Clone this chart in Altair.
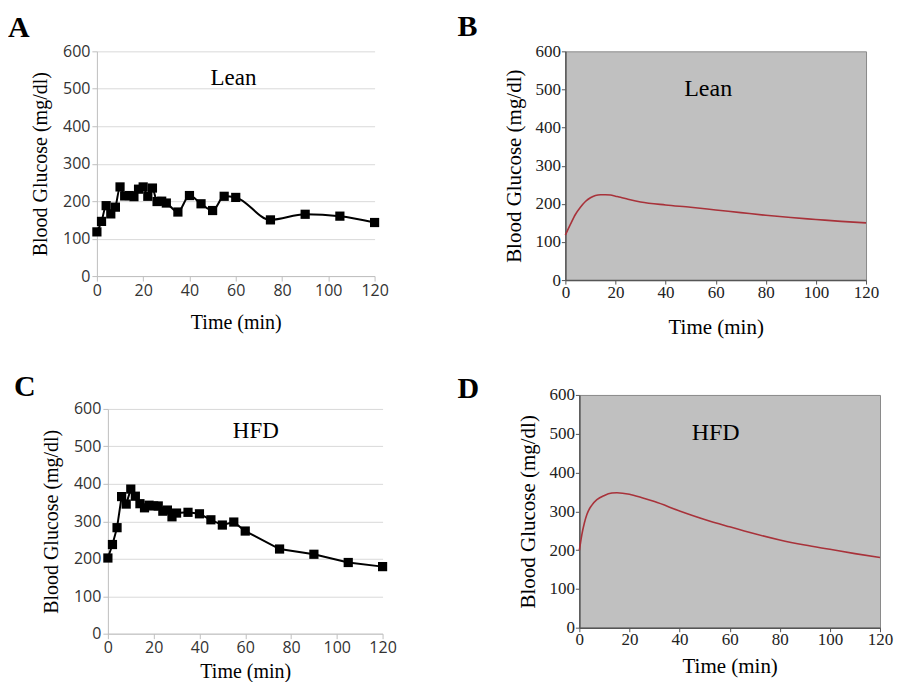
import altair as alt
import pandas as pd

# ---------------- data ----------------
time_pts = [0, 2, 4, 6, 8, 10, 12, 14, 16, 18, 20, 22, 24, 26, 28, 30,
            35, 40, 45, 50, 55, 60, 75, 90, 105, 120]
lean_glucose = [118, 146, 188, 166, 184, 238, 214, 215, 212, 232, 238, 213, 235,
                199, 200, 195, 171, 215, 193, 175, 213, 210, 150, 165, 160, 143]
hfd_glucose = [202, 238, 283, 366, 346, 386, 367, 347, 336, 343, 341, 341, 327,
               330, 312, 322, 324, 320, 304, 290, 298, 274, 226, 212, 190, 179]

lean_model_t = [0, 2, 4, 6, 8, 10, 12, 14, 16, 18, 20, 22, 25, 30, 40, 50, 60,
                70, 80, 90, 100, 110, 120]
lean_model_g = [118, 146, 172, 191, 206, 216, 222, 224, 224, 223, 220, 217, 212,
                205, 197, 191, 184, 177, 170, 164, 159, 154, 150]
hfd_model_t = [0, 1, 2, 3, 5, 7, 10, 13, 15, 20, 25, 30, 40, 50, 60, 70, 80, 90,
               100, 110, 120]
hfd_model_g = [199, 240, 270, 292, 316, 330, 341, 347, 348, 344, 335, 325, 301,
               279, 260, 242, 226, 213, 202, 191, 181]

x_ticks = [0, 20, 40, 60, 80, 100, 120]
y_ticks = [0, 100, 200, 300, 400, 500, 600]

SERIF = "Liberation Serif"
SANS = "Open Sans"
RED = "#a8323a"


def letter(txt, dx, offset):
    return alt.TitleParams(txt, anchor="start", frame="group", dx=dx,
                           font=SERIF, fontSize=30, fontWeight="bold",
                           color="black", offset=offset)


def label_layer(label, lx, ly, size):
    df = pd.DataFrame({"label": [label], "t": [lx], "g": [ly]})
    return alt.Chart(df).mark_text(font=SERIF, fontSize=size, color="black",
                                   baseline="middle", fontWeight="normal")


def excel_panel(t, g, label, label_x, label_y, title, width, height,
                xrange, yrange, yoff, interp, xtitle_pad):
    df = pd.DataFrame({"t": t, "g": g})
    xs = alt.Scale(domain=[0, 120], nice=False, range=xrange)
    ys = alt.Scale(domain=[0, 600], nice=False, range=yrange)
    xax = alt.Axis(values=x_ticks, title="Time (min)", titleFont=SERIF,
                   titleFontSize=20, titleFontWeight="normal", titleColor="black",
                   labelFont=SANS, labelFontSize=16, labelColor="#333333",
                   domainColor="#bfbfbf", tickColor="#bfbfbf", tickSize=5,
                   grid=False, labelPadding=1, titlePadding=xtitle_pad,
                   labelFlush=False, labelOverlap=False)
    yax = alt.Axis(values=y_ticks, title="Blood Glucose (mg/dl)", titleFont=SERIF,
                   titleFontSize=20, titleFontWeight="normal", titleColor="black",
                   labelFont=SANS, labelFontSize=16, labelColor="#333333",
                   domainColor="#bfbfbf", tickColor="#bfbfbf", tickSize=5,
                   grid=True, gridColor="#d9d9d9", labelPadding=2,
                   titlePadding=12, offset=yoff, labelOverlap=False)
    x = alt.X("t:Q", scale=xs, axis=xax)
    y = alt.Y("g:Q", scale=ys, axis=yax)
    base = alt.Chart(df)
    line = base.mark_line(color="black", strokeWidth=2,
                          interpolate=interp).encode(x=x, y=y)
    pts = base.mark_point(shape="square", filled=True, color="black",
                          size=85, opacity=1).encode(x=x, y=y)
    txt = label_layer(label, label_x, label_y, 23).encode(
        x=x, y=y, text="label:N")
    return alt.layer(line, pts, txt).properties(
        width=width, height=height, title=title,
        view=alt.ViewBackground(stroke=None, fill="white"))


def model_panel(t, g, label, label_x, label_y, title, width, height, xtitle_pad):
    df = pd.DataFrame({"t": t, "g": g})
    xs = alt.Scale(domain=[0, 120], nice=False)
    ys = alt.Scale(domain=[0, 600], nice=False)
    xax = alt.Axis(values=x_ticks, title="Time (min)", titleFont=SERIF,
                   titleFontSize=21, titleFontWeight="normal", titleColor="black",
                   labelFont=SERIF, labelFontSize=17, labelColor="#222222",
                   domainColor="#555555", domainWidth=1.5, tickColor="#555555",
                   tickSize=4, grid=False, labelPadding=0, titlePadding=xtitle_pad,
                   labelFlush=False, labelOverlap=False)
    yax = alt.Axis(values=y_ticks, title="Blood Glucose (mg/dl)", titleFont=SERIF,
                   titleFontSize=21, titleFontWeight="normal", titleColor="black",
                   labelFont=SERIF, labelFontSize=17, labelColor="#222222",
                   domainColor="#555555", domainWidth=1.5, tickColor="#555555",
                   tickSize=4, grid=False, labelPadding=1, titlePadding=10,
                   labelOverlap=False)
    x = alt.X("t:Q", scale=xs, axis=xax)
    y = alt.Y("g:Q", scale=ys, axis=yax)
    line = alt.Chart(df).mark_line(color=RED, strokeWidth=1.6,
                                   interpolate="monotone").encode(x=x, y=y)
    txt = label_layer(label, label_x, label_y, 24).encode(
        x=x, y=y, text="label:N")
    return alt.layer(line, txt).properties(
        width=width, height=height, title=title,
        view=alt.ViewBackground(stroke="#8a8a8a", fill="#c0c0c0", strokeWidth=1))


pA = excel_panel(time_pts, lean_glucose, "Lean", 59, 530, letter("A", -89, 0),
                 278, 225, [0, 278], [225, 0], 0, "monotone", 14)
pB = model_panel(lean_model_t, lean_model_g, "Lean", 57, 501,
                 letter("B", -108, 0), 301, 229, 16)
pC = excel_panel(time_pts, hfd_glucose, "HFD", 64.6, 540, letter("C", -83, -7),
                 286, 239, [11, 286], [239, 14], -11, "linear", 6)
pD = model_panel(hfd_model_t, hfd_model_g, "HFD", 54.4, 502,
                 letter("D", -122, -18), 301, 233, 8)

row1 = alt.hconcat(pA, pB, spacing=191, bounds="flush")
row2 = alt.hconcat(pC, pD, spacing=197, bounds="flush")

chart = alt.vconcat(row1, row2, spacing=34).configure(
    background="white",
    padding={"left": 0, "top": 3, "right": 0, "bottom": 0},
)

chart.save("out.html", embed_options={"renderer": "svg", "actions": False})
